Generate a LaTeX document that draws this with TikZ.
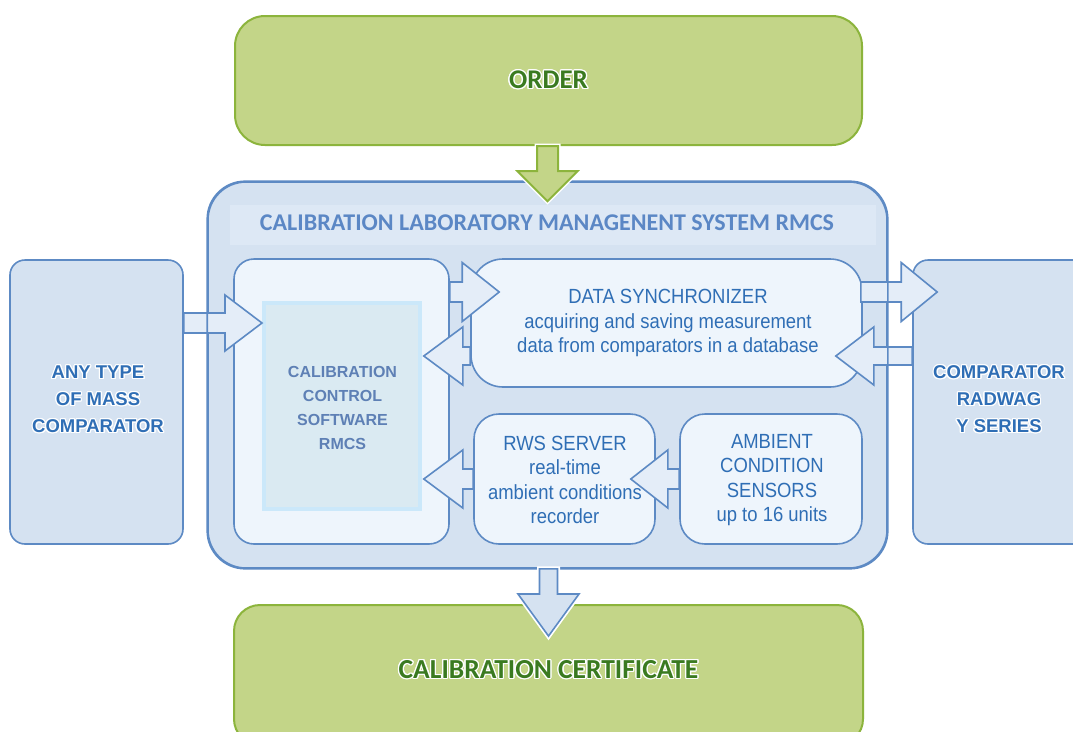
\documentclass[tikz,border=0pt]{standalone}
\usepackage{fontspec}
\setmainfont{Liberation Sans}
\newfontfamily\narrowf[FakeStretch=0.9]{Liberation Sans}
\newfontfamily\calf{Carlito}
\usepackage{contour}
\contourlength{1.2pt}
\usetikzlibrary{calc}
\definecolor{gfill}{HTML}{C3D588}
\definecolor{gborder}{HTML}{8CB43C}
\definecolor{gtext}{HTML}{3A7A20}
\definecolor{bborder}{HTML}{5D8AC4}
\definecolor{mainfill}{HTML}{D5E2F1}
\definecolor{bandfill}{HTML}{DDE8F5}
\definecolor{lightfill}{HTML}{EEF5FC}
\definecolor{arrowfill}{HTML}{E4EDF8}
\definecolor{titlec}{HTML}{5B87C5}
\definecolor{btext}{HTML}{2F6EB5}
\definecolor{softfill}{HTML}{DAEAF2}
\definecolor{softborder}{HTML}{CBE8FA}
\definecolor{softtext}{HTML}{5E80B5}
\newcommand\harrow[6][]{\path[barrow,#1] let \p1=(#2), \p2=(#3), \n1={(\x2>\x1)*2-1} in
  (\x1,\y2+#4) -- ({\x2-\n1*#6},\y2+#4) -- ({\x2-\n1*#6},\y2+#5) -- (\x2,\y2)
  -- ({\x2-\n1*#6},\y2-#5) -- ({\x2-\n1*#6},\y2-#4) -- (\x1,\y2-#4) -- cycle;}
\newcommand\varrow[6][]{\path[#1] let \p1=(#2), \p2=(#3), \n1={(\y2>\y1)*2-1} in
  (\x2+#4,\y1) -- (\x2+#4,{\y2-\n1*#6}) -- (\x2+#5,{\y2-\n1*#6}) -- (\x2,\y2)
  -- (\x2-#5,{\y2-\n1*#6}) -- (\x2-#4,{\y2-\n1*#6}) -- (\x2-#4,\y1) -- cycle;}
\newcommand\gw[1]{\contour{white}{#1}}
\begin{document}
\begin{tikzpicture}[x=1pt,y=-1pt,
  gbox/.style={draw=gborder, fill=gfill, line width=2pt, rounded corners=30pt, inner sep=0pt},
  bbox/.style={draw=bborder, fill=mainfill, line width=1.6pt, inner sep=0pt},
  lbox/.style={draw=bborder, fill=lightfill, line width=1.6pt, inner sep=0pt},
  barrow/.style={draw=bborder, fill=arrowfill, line width=1.6pt, line join=miter},
  garrow/.style={draw=gborder, fill=gfill, line width=2pt, line join=miter,
     preaction={draw=white, line width=5pt}},
  darrow/.style={draw=bborder, fill=mainfill, line width=1.6pt, line join=miter,
     preaction={draw=white, line width=5pt}},
  bigtxt/.style={font=\calf\bfseries\fontsize{27}{30}\selectfont, text=gtext},
  boldlbl/.style={font=\bfseries\fontsize{18.5}{27}\selectfont, text=btext, align=center},
  normtxt/.style={font=\narrowf\fontsize{20.5}{24.5}\selectfont, text=btext, align=center},
  softtxt/.style={font=\bfseries\fontsize{16}{24}\selectfont, text=softtext, align=center}]
\useasboundingbox[fill=white] (0,0) rectangle (1073,731);

% boxes
\node[gbox, minimum width=627pt, minimum height=129pt] (order) at (548.5,80.5) {};
\node[gbox, rounded corners=26pt, minimum width=629pt, minimum height=140pt] (cert) at (548.5,675) {};
\node[bbox, rounded corners=38pt, minimum width=679pt, minimum height=386pt] (main) at (547.5,375) {};
\node[fill=bandfill, inner sep=0pt, minimum width=646pt, minimum height=40pt] (band) at (553,225) {};
\node[bbox, rounded corners=15pt, minimum width=173pt, minimum height=284pt] (anytype) at (96.5,402) {};
\node[bbox, rounded corners=15pt, minimum width=175pt, minimum height=284pt] (radwag) at (1000.5,402) {};
\node[lbox, rounded corners=20pt, minimum width=215pt, minimum height=285pt] (panel) at (341.5,401.5) {};
\node[draw=softborder, fill=softfill, line width=4pt, inner sep=0pt, minimum width=156pt, minimum height=206pt] (soft) at (342,406) {};
\node[lbox, rounded corners=32pt, minimum width=391pt, minimum height=128pt] (sync) at (666.5,323) {};
\node[lbox, rounded corners=25pt, minimum width=181pt, minimum height=130pt] (rws) at (564.5,479) {};
\node[lbox, rounded corners=25pt, minimum width=182pt, minimum height=130pt] (amb) at (771,479) {};

% horizontal arrows
\harrow{anytype.east |- 0,323}{soft.west |- 0,323}{10}{28}{37}
\harrow{panel.east |- 0,292}{$(sync.west |- 0,292)+(29,0)$}{10}{29.5}{37}
\harrow{sync.west |- 0,356}{$(panel.east |- 0,356)+(-26,0)$}{9}{29}{39}
\harrow{$(sync.east |- 0,292)+(-2,0)$}{$(radwag.west |- 0,292)+(25,0)$}{10}{29.5}{36}
\harrow{radwag.west |- 0,356}{$(sync.east |- 0,356)+(-27,0)$}{9}{29}{38}
\harrow{rws.west |- 0,479}{$(panel.east |- 0,479)+(-26,0)$}{10}{29}{39}
\harrow{amb.west |- 0,479}{$(rws.east |- 0,479)+(-25,0)$}{10}{29}{37}

% main border redrawn over the horizontal arrows
\draw[draw=bborder, line width=1.6pt, rounded corners=38pt] (main.north west) rectangle (main.south east);

% vertical arrows
\varrow[garrow]{order.south}{$(main.north)+(0,20)$}{10.5}{30}{30}
\varrow[darrow]{main.south}{$(cert.north)+(0,32)$}{9}{30.5}{42}

% texts
\node[bigtxt] (ordertxt) at (order.center) {\gw{ORDER}};
\node[bigtxt, font=\calf\bfseries\fontsize{27.5}{30}\selectfont] (certtxt) at (548.5,670) {\gw{CALIBRATION CERTIFICATE}};
\node[font=\calf\bfseries\fontsize{24}{28}\selectfont, text=titlec] (title) at (547,223) {CALIBRATION LABORATORY MANAGENENT SYSTEM RMCS};
\node[boldlbl] (anytxt) at (98,400) {\gw{ANY TYPE}\\\gw{OF MASS}\\\gw{COMPARATOR}};
\node[boldlbl] (radtxt) at (999,400) {\gw{COMPARATOR}\\\gw{RADWAG}\\\gw{Y SERIES}};
\node[softtxt] (softtxt) at (342.5,408) {CALIBRATION\\CONTROL\\SOFTWARE\\RMCS};
\node[normtxt] (synctxt) at (668,323) {DATA SYNCHRONIZER\\acquiring and saving measurement\\data from comparators in a database};
\node[normtxt] (rwstxt) at (565,480) {RWS SERVER\\real-time\\ambient conditions\\recorder};
\node[normtxt] (ambtxt) at (772,480) {AMBIENT\\CONDITION\\SENSORS\\up to 16 units};
\end{tikzpicture}
\end{document}
